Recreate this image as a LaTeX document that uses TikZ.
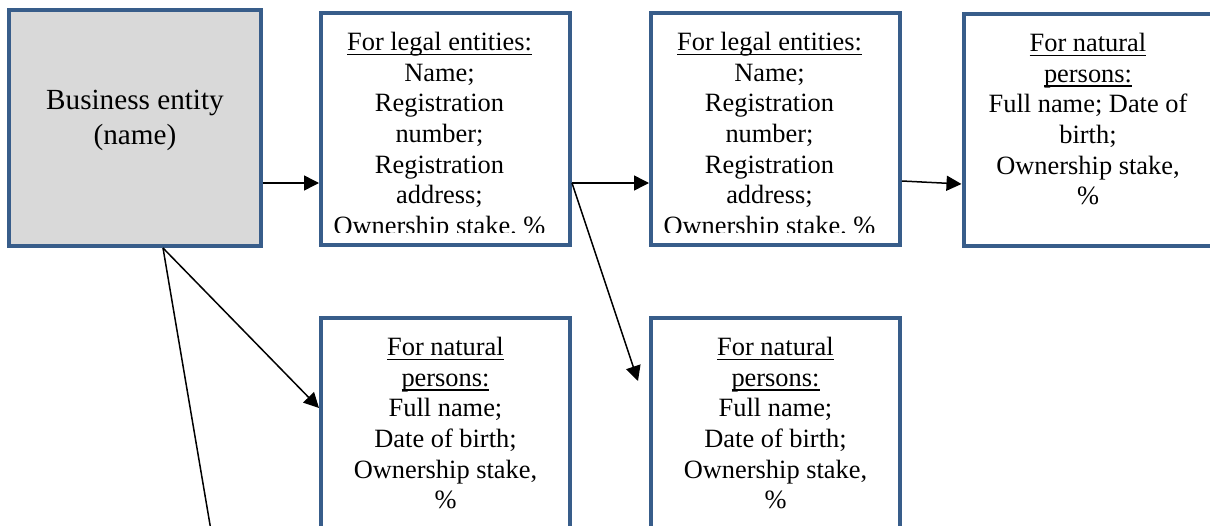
\documentclass[tikz,border=0pt]{standalone}
\usepackage{fontspec}
\setmainfont{Liberation Serif}
\usetikzlibrary{arrows.meta,positioning,calc}
\definecolor{boxblue}{RGB}{56,93,138}
\definecolor{boxgray}{RGB}{217,217,217}
% underline close to the baseline, crossing the descenders
\newcommand{\wordul}[1]{\setbox0=\hbox{#1}\rlap{\rule[-2.1pt]{\wd0}{0.7pt}}\box0}

\begin{document}
\begin{tikzpicture}[x=0.5pt,y=-0.5pt,
    infobox/.style={draw=boxblue,line width=2.2pt,minimum width=124.3pt,minimum height=115.8pt,inner sep=0pt},
    entbox/.style={infobox,fill=boxgray,minimum width=125.8pt,minimum height=117.8pt},
    infotext/.style={align=center,inner sep=0pt,anchor=north,font=\fontsize{13.2}{15.3}\selectfont},
    nametext/.style={align=center,inner sep=0pt,font=\fontsize{14.6}{17.5}\selectfont},
    link/.style={-{Triangle[length=7.5pt,width=7.5pt]},line width=0.75pt}]

      \useasboundingbox (0,0) rectangle (1210,525);
      \clip (0,0) rectangle (1210,525);

      %\draw[red] (0,0) grid[step=50] (1210,525);

      \node[entbox]  at (135,128)    (BE) {};
      \node[infobox] at (445.5,129)  (L1) {};
      \node[infobox] at (775.5,129)  (L2) {};
      \node[infobox] at (1088,130)   (N3) {};
      \node[infobox] at (445.5,434)  (N1) {};
      \node[infobox] at (775.5,434)  (N2) {};

      \node[nametext] at ([yshift=4pt]BE.center) (BEname) {Business entity\\(name)};

      \begin{scope}
        \clip (L1.north west) rectangle ([yshift=7.5pt]L1.south east);
        \node[infotext, below = 10.5pt of L1.north, xshift=-3pt] (L1text) {\wordul{For legal entities:}\\Name;\\Registration\\number;\\Registration\\address;\\Ownership stake, \%};
      \end{scope}
      \begin{scope}
        \clip (L2.north west) rectangle ([yshift=7.5pt]L2.south east);
        \node[infotext, below = 10.5pt of L2.north, xshift=-3pt] (L2text) {\wordul{For legal entities:}\\Name;\\Registration\\number;\\Registration\\address;\\Ownership stake, \%};
      \end{scope}

      \node[infotext, below = 10.5pt of N3.north] (N3text) {\wordul{For natural}\\\wordul{persons:}\\Full name; Date of\\birth;\\Ownership stake,\\\%};
      \node[infotext, below = 10.5pt of N1.north] (N1text) {\wordul{For natural}\\\wordul{persons:}\\Full name;\\Date of birth;\\Ownership stake,\\\%};
      \node[infotext, below = 10.5pt of N2.north] (N2text) {\wordul{For natural}\\\wordul{persons:}\\Full name;\\Date of birth;\\Ownership stake,\\\%};

      \coordinate (BElow) at (216,560);
      \coordinate (N2tip) at (638,381);

      \draw[link] ([yshift=-27.5pt]BE.east)--([yshift=-27pt]L1.west);
      \draw[link] ([yshift=-27pt]L1.east)--([yshift=-27pt]L2.west);
      \draw[link] ([yshift=-26pt]L2.east)--([yshift=-27pt]N3.west);
      \draw[link] ([xshift=14pt]BE.south)--([yshift=13pt]N1.west);
      \draw[line width=0.75pt] ([xshift=14pt]BE.south)--(BElow);
      \draw[link] ([yshift=-27pt]L1.east)--(N2tip);
\end{tikzpicture}
\end{document}
